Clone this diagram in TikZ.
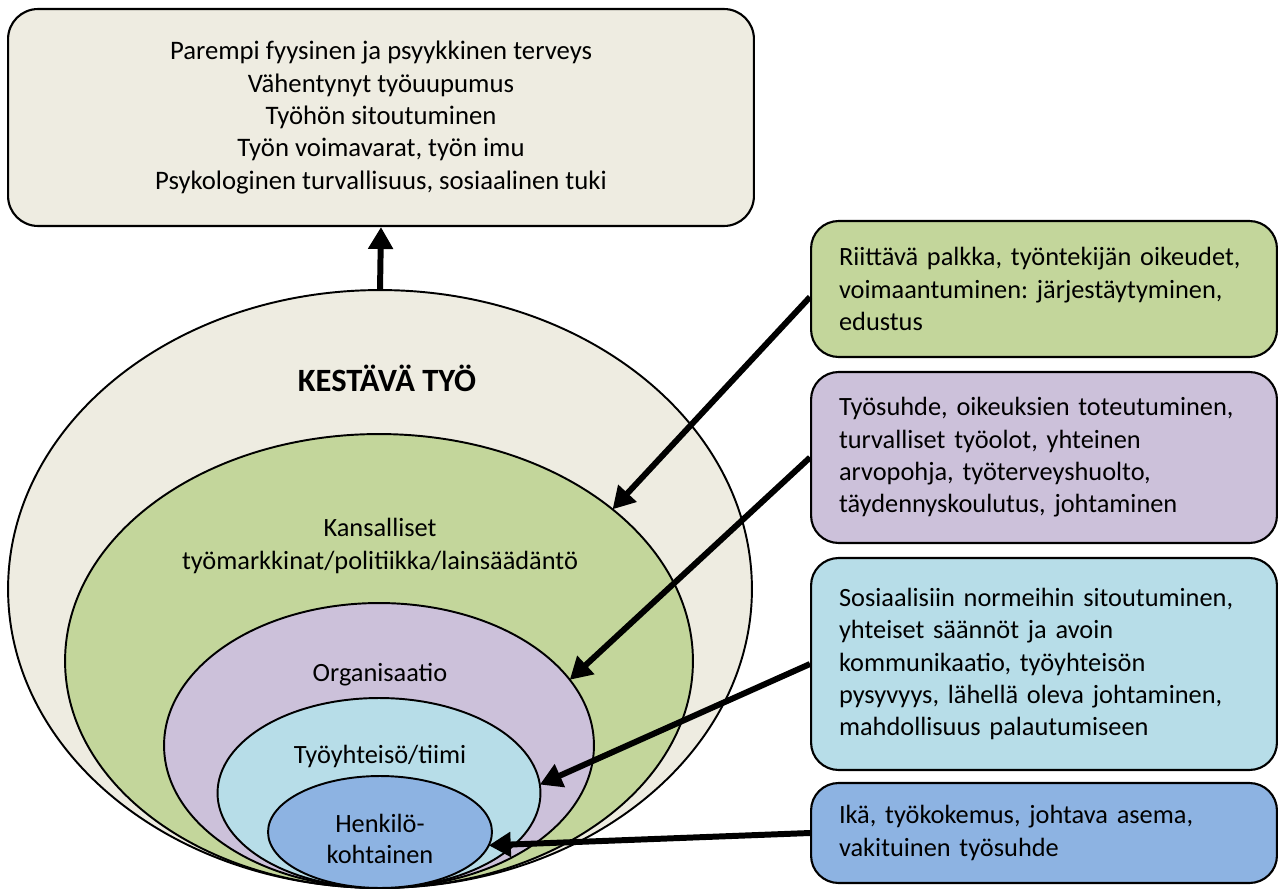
\documentclass[tikz,border=0pt]{standalone}
\usepackage{fontspec}
\setmainfont{Carlito}
\usepackage{tikz}
\usetikzlibrary{arrows.meta,shapes.geometric,positioning}
\usepackage{xcolor}
\definecolor{kwbeige}{HTML}{EEECE1}
\definecolor{kwgreen}{HTML}{C3D69B}
\definecolor{kwpurple}{HTML}{CCC1DA}
\definecolor{kwaqua}{HTML}{B7DDE8}
\definecolor{kwblue}{HTML}{8DB3E2}
\frenchspacing
\tikzstyle{arrow} = [line width=3.4pt,-{Triangle[length=0.44cm,width=0.48cm]}]
\tikzstyle{layer} = [ellipse, draw=black, line width=1.1pt, inner sep=0pt, outer sep=0pt]
\tikzstyle{layertext} = [align=center, font=\fontsize{15}{17}\selectfont]
\tikzstyle{infobox} = [rectangle, rounded corners=0.55cm, draw=black, line width=1.2pt, anchor=west, text width=8.2cm, inner xsep=0.56cm, align=left, font=\fontsize{15}{18.4}\selectfont]

\begin{document}
\begin{tikzpicture}[x=0.02cm, y=-0.02cm]
\useasboundingbox (0,0) rectangle (1278,892);

% Result box
\node[rectangle, rounded corners=0.6cm, draw=black, line width=1.2pt, fill=kwbeige,
  minimum width=14.92cm, minimum height=4.34cm, align=center,
  font=\fontsize{15.2}{18.4}\selectfont] (result) at (381,117.5)
  {Parempi fyysinen ja psyykkinen terveys\\
   Vähentynyt työuupumus\\
   Työhön sitoutuminen\\
   Työn voimavarat, työn imu\\
   Psykologinen turvallisuus, sosiaalinen tuki};

% Nested layers
\node[layer, fill=kwbeige, minimum width=14.88cm, minimum height=11.96cm] (kestava) at (380,589) {};
\node[layer, fill=kwgreen, minimum width=12.56cm, minimum height=9.08cm] (kansa) at (379,661) {};
\node[layer, fill=kwpurple, minimum width=8.6cm, minimum height=5.7cm] (organ) at (379,745.5) {};
\node[layer, fill=kwaqua, minimum width=6.46cm, minimum height=3.8cm] (tiimi) at (379,793) {};
\node[layer, fill=kwblue, minimum width=4.48cm, minimum height=2.24cm] (henkilo) at (380,832) {};

% Layer labels
\node[layertext, font=\fontsize{18.5}{21}\selectfont\bfseries] (kestavalbl) at (387,378) {KESTÄVÄ TYÖ};
\node[layertext] (kansalbl) at (380,546) {Kansalliset\\[2pt]työmarkkinat/politiikka/lainsäädäntö};
\node[layertext] (organlbl) at (380,675) {Organisaatio};
\node[layertext] (tiimilbl) at (380,756) {Työyhteisö/tiimi};
\node[layertext] (henkilolbl) at (380,839) {Henkilö-\\[1pt]kohtainen};

% Factor boxes
\node[infobox, fill=kwgreen, minimum height=2.72cm] (palkka) at (810,289)
  {Riittävä palkka, työntekijän oikeudet,\\ voimaantuminen: järjestäytyminen,\\ edustus};
\node[infobox, fill=kwpurple, minimum height=3.42cm] (tyosuhde) at (810,457.5)
  {Työsuhde, oikeuksien toteutuminen,\\ turvalliset työolot, yhteinen\\ arvopohja, työterveyshuolto,\\ täydennyskoulutus, johtaminen};
\node[infobox, fill=kwaqua, minimum height=4.24cm] (normit) at (810,664)
  {Sosiaalisiin normeihin sitoutuminen,\\ yhteiset säännöt ja avoin\\ kommunikaatio, työyhteisön\\ pysyvyys, lähellä oleva johtaminen,\\ mahdollisuus palautumiseen};
\node[infobox, fill=kwblue, minimum height=2.0cm] (ika) at (810,833)
  {Ikä, työkokemus, johtava asema,\\ vakituinen työsuhde};

% Arrows
\draw[arrow] (kestava.north) -- (result.south);
\draw[arrow] ([yshift=-0.16cm]palkka.west) -- (kansa.33);
\draw[arrow] (tyosuhde.west) -- (organ.19);
\draw[arrow] (normit.west) -- (tiimi.3);
\draw[arrow] (ika.west) -- (henkilo.-7);
\end{tikzpicture}
\end{document}
